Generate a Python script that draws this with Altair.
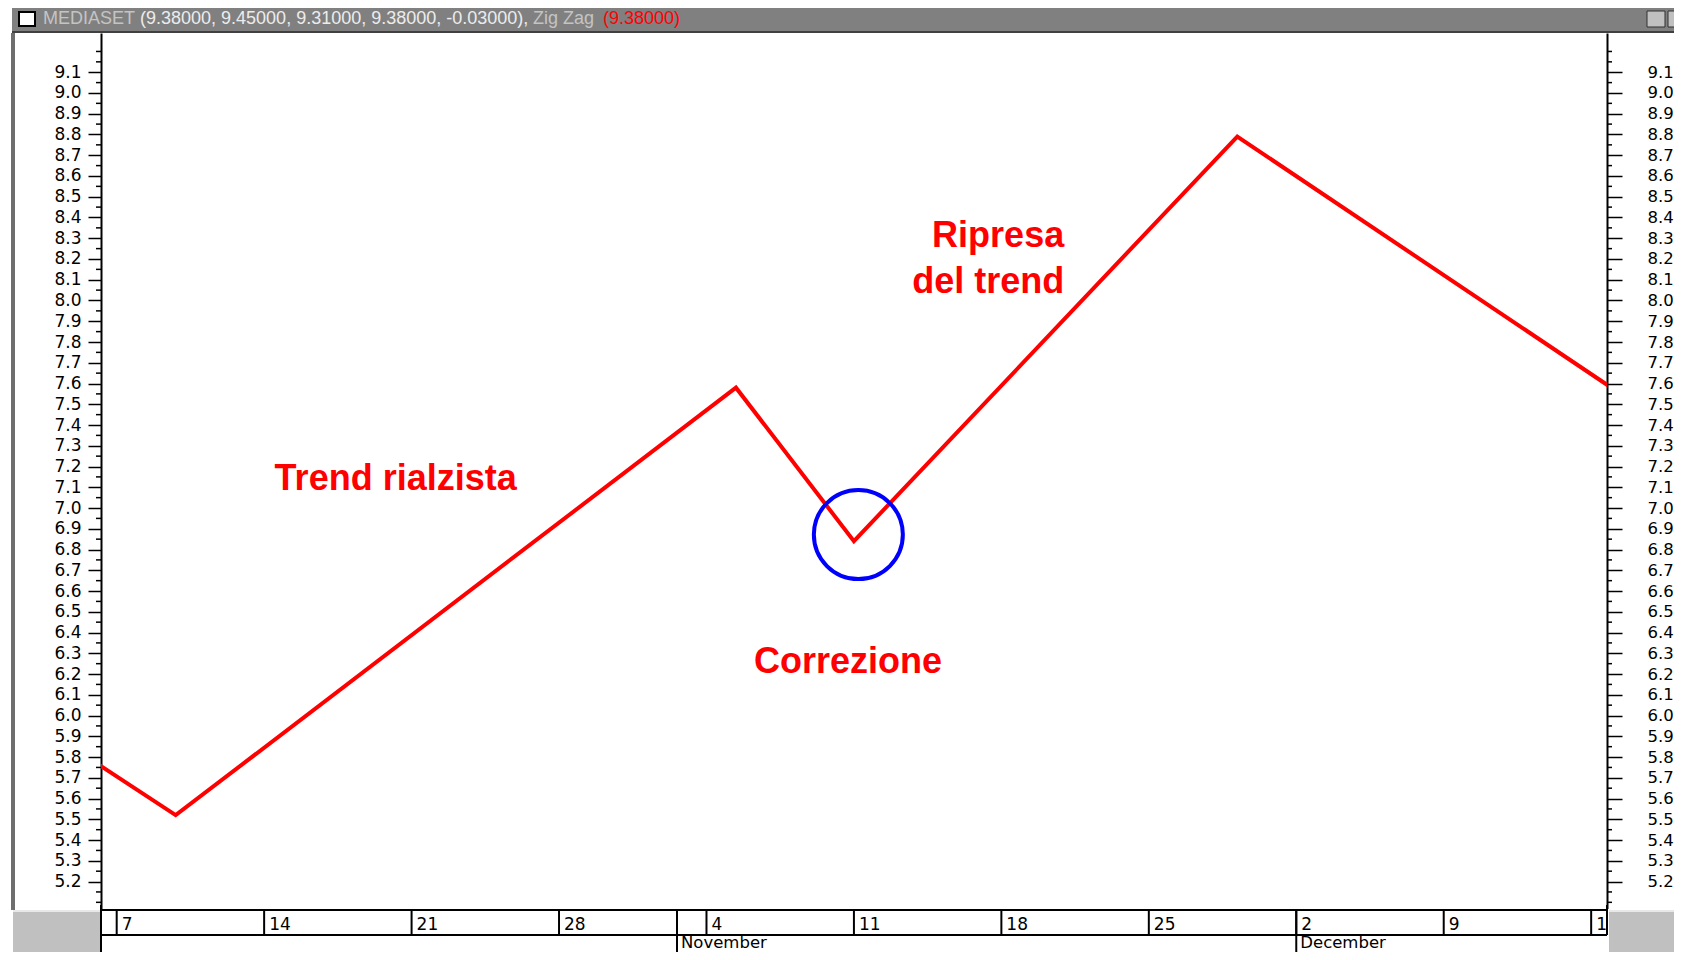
import altair as alt
import numpy as np
import pandas as pd

# ---------------- data ----------------
BASE_DAY = "2002-10-07"  # first labelled trading day (index 0)

zz_dates = ["2002-10-04", "2002-10-09", "2002-11-05", "2002-11-11", "2002-11-28", "2002-12-17"]
zz_prices = [5.80, 5.52, 7.58, 6.84, 8.79, 7.55]

week_dates = ["2002-10-07", "2002-10-14", "2002-10-21", "2002-10-28", "2002-11-04",
              "2002-11-11", "2002-11-18", "2002-11-25", "2002-12-02", "2002-12-09", "2002-12-16"]
week_labels = ["7", "14", "21", "28", "4", "11", "18", "25", "2", "9", "16"]

month_dates = ["2002-11-01", "2002-12-02"]
month_labels = ["November", "December"]

major_ticks = [round(5.2 + 0.1 * i, 2) for i in range(40)]          # 5.2 .. 9.1
all_ticks = [round(5.1 + 0.05 * i, 2) for i in range(83)]           # 5.10 .. 9.20
minor_ticks = [t for t in all_ticks if t not in major_ticks]

ann_center_text = ["Trend rialzista", "Correzione"]
ann_center_day = [9.46, 24.8]
ann_center_price = [7.087, 6.206]
ann_right_text = ["Ripresa", "del trend"]
ann_right_day = [32.13, 32.13]
ann_right_price = [8.260, 8.038]

circle_day = [25.15]
circle_price = [6.872]

title_parts = ["MEDIASET", "(9.38000, 9.45000, 9.31000, 9.38000, -0.03000),", "Zig Zag", "(9.38000)"]

# ---------------- helpers ----------------
def day_index(dates):
    return np.busday_count(BASE_DAY, np.array(dates, dtype="datetime64[D]")).astype(float)

zz_df = pd.DataFrame({"d": day_index(zz_dates), "p": zz_prices})
week_df = pd.DataFrame({"d": day_index(week_dates), "lab": week_labels})
month_df = pd.DataFrame({"d": day_index(month_dates), "lab": month_labels})
major_df = pd.DataFrame({"p": major_ticks})
minor_df = pd.DataFrame({"p": minor_ticks})
annc_df = pd.DataFrame({"d": ann_center_day, "p": ann_center_price, "t": ann_center_text})
annr_df = pd.DataFrame({"d": ann_right_day, "p": ann_right_price, "t": ann_right_text})
circ_df = pd.DataFrame({"d": circle_day, "p": circle_price})
one = pd.DataFrame({"k": [0]})

W, H = 1506, 877
OX, OY = 101, 33  # page position of plot origin

xs = alt.Scale(domain=[-0.532, 50.537], nice=False, zero=False)
ys = alt.Scale(domain=[5.063, 9.289], nice=False, zero=False)
X = alt.X("d:Q", scale=xs, axis=None)

left_axis = alt.Axis(orient="left", values=major_ticks, format=".1f", tickSize=13, tickWidth=1.5,
                     tickColor="#000000", domainColor="#000000", domainWidth=2,
                     labelFont="DejaVu Sans", labelFontSize=17, labelColor="#000000",
                     labelPadding=7, labelOverlap=False, grid=False, title=None)
right_axis = alt.Axis(orient="right", values=major_ticks, format=".1f", tickSize=15, tickWidth=1.5,
                      tickColor="#000000", domainColor="#000000", domainWidth=2,
                      labelFont="DejaVu Sans", labelFontSize=16.5, labelColor="#000000",
                      labelPadding=25, labelOverlap=False, grid=False, title=None)


def Y(field="p:Q"):
    return alt.Y(field, scale=ys, axis=left_axis)


def rect(x1, x2, y1, y2, **kw):
    return alt.Chart(one).mark_rect(**kw).encode(
        x=alt.value(x1 - OX), x2=alt.value(x2 - OX), y=alt.value(y1 - OY), y2=alt.value(y2 - OY))


def hrule(x1, x2, y, **kw):
    return alt.Chart(one).mark_rule(**kw).encode(
        x=alt.value(x1 - OX), x2=alt.value(x2 - OX), y=alt.value(y - OY))


def vrule(x, y1, y2, **kw):
    return alt.Chart(one).mark_rule(**kw).encode(
        x=alt.value(x - OX), y=alt.value(y1 - OY), y2=alt.value(y2 - OY))


def label(txt, x, y, color, size=18):
    return alt.Chart(one).mark_text(text=txt, align="left", baseline="middle", font="Liberation Sans",
                                    fontSize=size, color=color).encode(
        x=alt.value(x - OX), y=alt.value(y - OY))


# ---------------- window decoration ----------------
deco = [
    rect(12, 1674, 8, 31, color="#808080"),
    hrule(12, 1674, 32, color="#404040", strokeWidth=2),
    rect(11, 15, 33, 910, color="#6e6e6e"),
    rect(19, 35, 12, 26, fill="#ffffff", stroke="#000000", strokeWidth=2),
    rect(1647, 1665, 11, 27, fill="#c0c0c0", stroke="#303030", strokeWidth=1),
    rect(1668, 1680, 11, 27, fill="#c0c0c0", stroke="#303030", strokeWidth=1),
    label(title_parts[0], 43, 19, "#c4c4c4"),
    label(title_parts[1], 140, 19, "#ececec"),
    label(title_parts[2], 533, 19, "#c4c4c4"),
    label(title_parts[3], 603, 19, "#ff0000"),
]

# ---------------- minor ticks (left/right) ----------------
minor_left = alt.Chart(minor_df).mark_rule(color="#000000", strokeWidth=1.5).encode(
    y=Y(), x=alt.value(-5), x2=alt.value(0))
minor_right = alt.Chart(minor_df).mark_rule(color="#000000", strokeWidth=1.5).encode(
    y=Y(), x=alt.value(W), x2=alt.value(W + 5))

# ---------------- date strip ----------------
strip = [
    hrule(OX, OX + W, 910, color="#000000", strokeWidth=2),
    hrule(OX, OX + W, 935, color="#000000", strokeWidth=2),
    vrule(OX, 905, 960, color="#000000", strokeWidth=2),
]
week_rules = alt.Chart(week_df).mark_rule(color="#000000", strokeWidth=2).encode(
    x=X, y=alt.value(910 - OY), y2=alt.value(935 - OY))
month_rules = alt.Chart(month_df).mark_rule(color="#000000", strokeWidth=2).encode(
    x=X, y=alt.value(910 - OY), y2=alt.value(960 - OY))
week_text = alt.Chart(week_df).mark_text(align="left", baseline="alphabetic", dx=5, font="DejaVu Sans",
                                         fontSize=17, color="#000000").encode(
    x=X, y=alt.value(930 - OY), text="lab:N")
month_text = alt.Chart(month_df).mark_text(align="left", baseline="alphabetic", dx=4, font="DejaVu Sans",
                                           fontSize=16.5, color="#000000").encode(
    x=X, y=alt.value(948 - OY), text="lab:N")

covers = [
    rect(1607, 1674, 909, 960, color="#ffffff"),
    rect(1609, 1674, 910, 960, color="#c0c0c0"),
    hrule(1609, 1674, 911, color="#e8e8e8", strokeWidth=2),
    rect(13, 100, 910, 960, color="#c0c0c0"),
    hrule(13, 100, 911, color="#e8e8e8", strokeWidth=2),
    vrule(OX + W, 905, 935, color="#000000", strokeWidth=2),
]

# ---------------- data marks ----------------
line = alt.Chart(zz_df).mark_line(color="#ff0000", strokeWidth=4, clip=True).encode(x=X, y=Y())
circle = alt.Chart(circ_df).mark_point(shape="circle", size=7921, filled=False, stroke="#0000ff",
                                       strokeWidth=4, opacity=1).encode(x=X, y=Y())
ann_c = alt.Chart(annc_df).mark_text(align="center", baseline="alphabetic", font="Liberation Sans",
                                     fontSize=36, fontWeight="bold", color="#ff0000").encode(
    x=X, y=Y(), text="t:N")
ann_r = alt.Chart(annr_df).mark_text(align="right", baseline="alphabetic", font="Liberation Sans",
                                     fontSize=36, fontWeight="bold", color="#ff0000").encode(
    x=X, y=Y(), text="t:N")

inner = alt.layer(*deco, minor_left, minor_right, *strip, week_rules, month_rules, week_text, month_text,
                  *covers, line, circle, ann_c, ann_r)

right_layer = alt.Chart(major_df).mark_point(opacity=0).encode(
    y=alt.Y("p:Q", scale=ys, axis=right_axis))

chart = alt.layer(inner, right_layer).resolve_scale(y="independent").properties(
    width=W, height=H,
    padding={"left": 93, "top": 25, "right": 67, "bottom": 42},
    autosize=alt.AutoSizeParams(type="none"),
    background="#ffffff",
).configure_view(stroke="transparent")

chart.save("out.html", embed_options={"renderer": "svg", "actions": False})
